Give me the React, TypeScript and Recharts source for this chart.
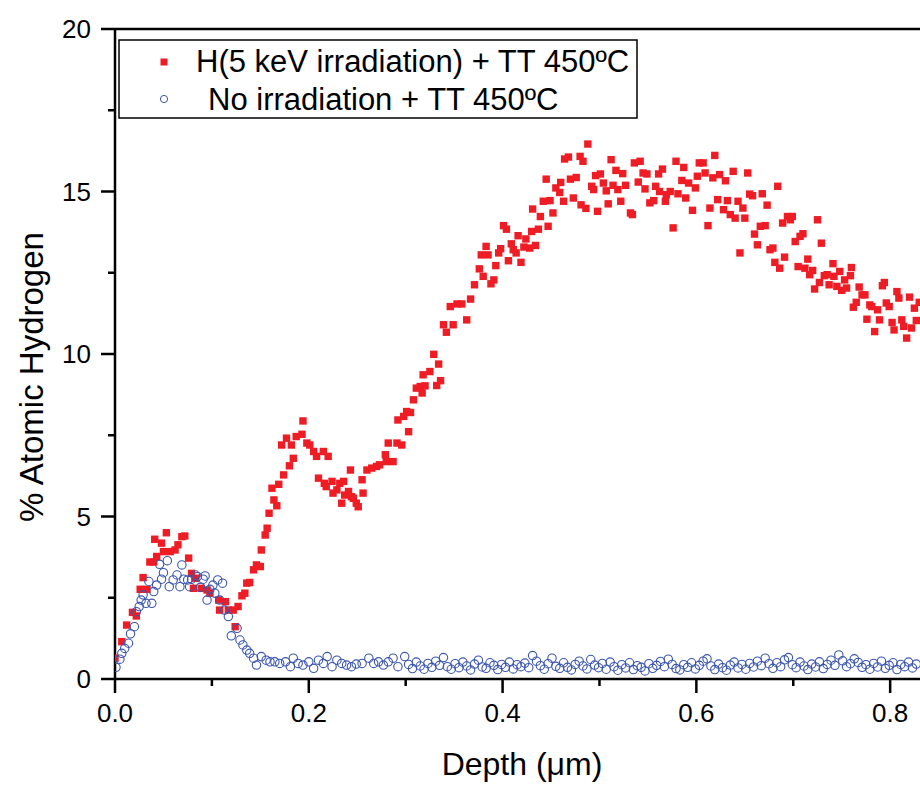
import React from "react";
import { ReferenceLine, Scatter, ScatterChart, XAxis, YAxis } from "recharts";

// H(5 keV irradiation) + TT 450ºC  (depth in µm, % atomic hydrogen)
const IRR_DEPTH = [
  0.0, 0.007, 0.012, 0.018, 0.022, 0.026, 0.029, 0.033, 0.036, 0.04,
  0.041, 0.043, 0.048, 0.05, 0.053, 0.057, 0.062, 0.065, 0.069, 0.072,
  0.076, 0.079, 0.081, 0.083, 0.089, 0.095, 0.098, 0.107, 0.108, 0.114,
  0.117, 0.122, 0.124, 0.127, 0.131, 0.134, 0.136, 0.139, 0.143, 0.146,
  0.15, 0.151, 0.155, 0.157, 0.159, 0.162, 0.164, 0.167, 0.169, 0.172,
  0.174, 0.177, 0.18, 0.182, 0.184, 0.187, 0.193, 0.194, 0.198, 0.201,
  0.205, 0.208, 0.21, 0.215, 0.216, 0.218, 0.22, 0.224, 0.225, 0.229,
  0.232, 0.234, 0.236, 0.237, 0.241, 0.243, 0.244, 0.246, 0.249, 0.251,
  0.255, 0.256, 0.26, 0.265, 0.27, 0.273, 0.279, 0.28, 0.282, 0.287,
  0.291, 0.292, 0.296, 0.298, 0.301, 0.303, 0.305, 0.308, 0.311, 0.315,
  0.317, 0.318, 0.32, 0.325, 0.329, 0.332, 0.334, 0.336, 0.339, 0.342,
  0.346, 0.349, 0.353, 0.358, 0.363, 0.367, 0.371, 0.376, 0.378, 0.38,
  0.383, 0.385, 0.388, 0.391, 0.393, 0.396, 0.398, 0.401, 0.404, 0.406,
  0.409, 0.411, 0.414, 0.416, 0.419, 0.422, 0.424, 0.428, 0.43, 0.431,
  0.434, 0.437, 0.439, 0.442, 0.445, 0.447, 0.449, 0.452, 0.455, 0.459,
  0.46, 0.463, 0.464, 0.468, 0.47, 0.473, 0.476, 0.48, 0.481, 0.483,
  0.486, 0.488, 0.492, 0.494, 0.496, 0.498, 0.501, 0.504, 0.507, 0.509,
  0.512, 0.514, 0.517, 0.519, 0.522, 0.524, 0.527, 0.532, 0.534, 0.536,
  0.54, 0.542, 0.545, 0.547, 0.549, 0.552, 0.556, 0.558, 0.561, 0.562,
  0.565, 0.568, 0.569, 0.573, 0.576, 0.579, 0.581, 0.585, 0.587, 0.589,
  0.592, 0.596, 0.599, 0.601, 0.603, 0.607, 0.609, 0.612, 0.614, 0.617,
  0.619, 0.622, 0.624, 0.628, 0.63, 0.632, 0.635, 0.638, 0.64, 0.643,
  0.645, 0.648, 0.65, 0.653, 0.655, 0.658, 0.66, 0.663, 0.666, 0.668,
  0.671, 0.673, 0.676, 0.679, 0.681, 0.684, 0.686, 0.689, 0.691, 0.694,
  0.697, 0.699, 0.702, 0.705, 0.707, 0.71, 0.712, 0.715, 0.717, 0.72,
  0.722, 0.725, 0.727, 0.729, 0.732, 0.735, 0.737, 0.741, 0.742, 0.745,
  0.748, 0.75, 0.753, 0.755, 0.759, 0.76, 0.762, 0.765, 0.768, 0.771,
  0.774, 0.776, 0.779, 0.781, 0.784, 0.787, 0.789, 0.792, 0.794, 0.796,
  0.799, 0.802, 0.804, 0.807, 0.809, 0.812, 0.814, 0.817, 0.82, 0.822,
  0.825, 0.827, 0.83,
];
const IRR_H = [
  0.64, 1.15, 1.66, 2.05, 1.94, 2.76, 3.12, 2.76, 3.6, 3.6,
  4.3, 3.77, 4.18, 3.92, 4.5, 3.92, 3.97, 4.13, 4.38, 4.4,
  3.72, 3.25, 2.79, 3.1, 2.79, 2.74, 2.64, 2.43, 2.12, 2.38,
  2.12, 2.12, 1.61, 2.23, 2.56, 2.64, 2.95, 2.97, 3.36, 3.51,
  3.46, 3.97, 4.43, 4.64, 5.1, 5.87, 5.51, 5.33, 5.99, 7.2,
  6.28, 7.41, 6.56, 7.2, 6.79, 7.46, 7.53, 7.94, 7.26, 7.2,
  7.0, 6.85, 6.18, 7.0, 6.02, 5.92, 6.85, 6.08, 5.72, 5.82,
  6.02, 5.41, 6.08, 5.66, 5.77, 6.43, 5.61, 5.56, 5.41, 5.3,
  6.13, 5.72, 6.43, 6.49, 6.54, 6.59, 6.9, 6.69, 7.26, 6.69,
  7.26, 7.97, 7.2, 8.08, 8.23, 7.61, 8.2, 8.59, 8.95, 9.0,
  8.8, 9.36, 9.02, 9.46, 9.99, 9.03, 9.69, 9.18, 10.9, 10.67,
  11.46, 10.9, 11.54, 11.54, 11.05, 11.69, 12.13, 12.62, 13.05, 12.39,
  13.31, 13.05, 12.16, 12.28, 12.72, 13.11, 13.24, 13.95, 13.84, 12.87,
  13.39, 13.21, 13.11, 13.64, 12.82, 13.29, 13.54, 13.26, 13.77, 14.46,
  13.34, 13.84, 14.23, 14.7, 15.38, 13.93, 14.72, 14.34, 15.11, 14.97,
  15.28, 14.7, 16.0, 16.06, 15.38, 14.8, 15.43, 16.08, 14.59, 15.93,
  14.48, 16.46, 15.16, 15.06, 15.49, 14.39, 15.54, 15.26, 15.02, 14.62,
  15.98, 15.19, 15.65, 15.06, 14.7, 15.55, 15.19, 14.34, 14.29, 15.88,
  15.29, 15.93, 15.57, 15.08, 15.54, 14.65, 14.72, 15.16, 15.54, 15.0,
  15.69, 14.7, 14.9, 15.0, 13.88, 15.93, 14.93, 15.34, 15.74, 14.8,
  15.26, 14.42, 15.11, 15.47, 15.88, 15.88, 15.57, 13.95, 14.49, 15.42,
  16.11, 14.75, 15.52, 14.44, 15.33, 14.72, 14.29, 15.62, 14.18, 14.7,
  13.11, 14.49, 14.18, 15.57, 14.92, 14.87, 13.69, 13.36, 13.93, 14.93,
  13.95, 14.58, 13.21, 13.26, 12.82, 15.16, 12.64, 14.03, 12.98, 14.23,
  14.13, 14.23, 13.46, 12.69, 13.62, 13.7, 12.64, 12.92, 12.44, 12.57,
  12.0, 14.13, 12.2, 13.41, 12.41, 12.44, 12.13, 12.78, 12.39, 12.08,
  12.54, 11.96, 12.28, 12.03, 12.41, 12.66, 11.44, 11.59, 12.06, 11.82,
  11.82, 11.07, 11.51, 11.46, 10.69, 11.36, 11.05, 12.1, 12.2, 11.57,
  11.46, 10.97, 10.74, 11.92, 11.72, 11.05, 10.85, 10.49, 11.75, 10.8,
  11.41, 11.03, 11.59,
];

// No irradiation + TT 450ºC
const NOIRR_DEPTH = [
  0.001, 0.005, 0.007, 0.01, 0.014, 0.016, 0.02, 0.022, 0.025, 0.027,
  0.029, 0.032, 0.035, 0.038, 0.04, 0.043, 0.046, 0.048, 0.05, 0.054,
  0.056, 0.06, 0.064, 0.067, 0.069, 0.071, 0.075, 0.077, 0.079, 0.083,
  0.085, 0.088, 0.091, 0.093, 0.095, 0.098, 0.101, 0.103, 0.106, 0.108,
  0.111, 0.113, 0.117, 0.12, 0.126, 0.129, 0.132, 0.136, 0.139, 0.143,
  0.146, 0.151, 0.156, 0.16, 0.165, 0.17, 0.176, 0.181, 0.184, 0.189,
  0.194, 0.2, 0.205, 0.21, 0.215, 0.219, 0.224, 0.229, 0.234, 0.239,
  0.244, 0.249, 0.255, 0.262, 0.267, 0.272, 0.277, 0.282, 0.287, 0.292,
  0.299, 0.303, 0.307, 0.311, 0.315, 0.319, 0.323, 0.327, 0.331, 0.335,
  0.339, 0.343, 0.347, 0.351, 0.355, 0.359, 0.363, 0.367, 0.371, 0.375,
  0.379, 0.383, 0.387, 0.391, 0.395, 0.399, 0.403, 0.407, 0.411, 0.415,
  0.419, 0.423, 0.427, 0.431, 0.435, 0.439, 0.443, 0.447, 0.451, 0.455,
  0.459, 0.463, 0.467, 0.471, 0.475, 0.479, 0.483, 0.487, 0.491, 0.495,
  0.499, 0.503, 0.507, 0.511, 0.515, 0.519, 0.523, 0.527, 0.531, 0.535,
  0.539, 0.543, 0.547, 0.551, 0.555, 0.559, 0.563, 0.567, 0.571, 0.575,
  0.579, 0.583, 0.587, 0.591, 0.595, 0.599, 0.603, 0.607, 0.611, 0.615,
  0.619, 0.623, 0.627, 0.631, 0.635, 0.639, 0.643, 0.647, 0.651, 0.655,
  0.659, 0.663, 0.667, 0.671, 0.675, 0.679, 0.683, 0.687, 0.691, 0.695,
  0.699, 0.703, 0.707, 0.711, 0.715, 0.719, 0.723, 0.727, 0.731, 0.735,
  0.739, 0.743, 0.747, 0.751, 0.755, 0.759, 0.763, 0.767, 0.771, 0.775,
  0.779, 0.783, 0.787, 0.791, 0.795, 0.799, 0.803, 0.807, 0.811, 0.815,
  0.819, 0.823, 0.827,
];
const NOIRR_H = [
  0.36, 0.61, 0.79, 0.94, 1.1, 1.39, 1.61, 2.07, 2.23, 2.43,
  2.59, 2.33, 3.0, 2.33, 2.69, 2.89, 3.53, 3.07, 3.27, 3.64,
  2.84, 3.05, 3.2, 2.84, 3.51, 3.07, 3.05, 2.84, 3.07, 3.2,
  3.15, 2.82, 3.07, 3.17, 2.43, 2.76, 2.89, 2.64, 3.05, 2.43,
  2.95, 2.12, 1.92, 1.33, 1.56, 1.2, 1.05, 0.89, 0.79, 0.64,
  0.43, 0.69, 0.58, 0.53, 0.53, 0.48, 0.53, 0.38, 0.64, 0.48,
  0.43, 0.53, 0.33, 0.58, 0.48, 0.69, 0.38, 0.58, 0.48, 0.43,
  0.38, 0.46, 0.48, 0.64, 0.48, 0.53, 0.43, 0.53, 0.64, 0.38,
  0.69, 0.45, 0.32, 0.52, 0.4, 0.3, 0.48, 0.36, 0.55, 0.42,
  0.66, 0.38, 0.3, 0.47, 0.35, 0.52, 0.4, 0.28, 0.46, 0.58,
  0.37, 0.33, 0.5, 0.42, 0.29, 0.45, 0.36, 0.52, 0.31, 0.44,
  0.38, 0.49, 0.35, 0.72, 0.55, 0.41, 0.3, 0.47, 0.64, 0.39,
  0.33, 0.5, 0.36, 0.28, 0.45, 0.55, 0.4, 0.31, 0.6, 0.43,
  0.35, 0.48, 0.3, 0.52, 0.38, 0.27, 0.44, 0.34, 0.5, 0.29,
  0.41, 0.36, 0.25, 0.47, 0.33, 0.42, 0.54, 0.38, 0.61, 0.45,
  0.32, 0.28, 0.44, 0.36, 0.5, 0.31, 0.42, 0.55, 0.62, 0.4,
  0.29, 0.46, 0.35, 0.27, 0.43, 0.52, 0.34, 0.45, 0.3, 0.48,
  0.37, 0.55, 0.41, 0.64, 0.47, 0.33, 0.5, 0.38, 0.59, 0.66,
  0.44, 0.35, 0.52, 0.4, 0.29, 0.46, 0.37, 0.53, 0.32, 0.45,
  0.58, 0.42, 0.74, 0.56, 0.38, 0.47, 0.62, 0.51, 0.36, 0.44,
  0.3, 0.48, 0.37, 0.55, 0.33, 0.42, 0.5, 0.29, 0.45, 0.38,
  0.52, 0.34, 0.46,
];

const X_TICKS = [0, 0.1, 0.2, 0.3, 0.4, 0.5, 0.6, 0.7, 0.8];
const Y_TICKS = [0, 2.5, 5, 7.5, 10, 12.5, 15, 17.5, 20];
const X_MAX = 0.8308;

const IRR_LABEL = "H(5 keV irradiation) + TT 450ºC";
const NOIRR_LABEL = "No irradiation + TT 450ºC";
const X_TITLE = "Depth (μm)";
const Y_TITLE = "% Atomic Hydrogen";

const FONT = "'Liberation Sans', Arial, sans-serif";
const RED = "#ee1c24";
const BLUE = "#3b56ad";

const irrData = IRR_DEPTH.map((d, i) => ({ depth: d, h: IRR_H[i] }));
const noIrrData = NOIRR_DEPTH.map((d, i) => ({ depth: d, h: NOIRR_H[i] }));

function XTick(props: any) {
  const { x, y, payload, index } = props;
  const major = index % 2 === 0;
  return (
    <g>
      <line x1={x} x2={x} y1={y} y2={y + (major ? 14 : 7)} stroke="#000" strokeWidth={2.5} />
      {major && (
        <text x={x} y={y + 43} textAnchor="middle" fontSize={26} fontFamily={FONT} fill="#000">
          {payload.value.toFixed(1)}
        </text>
      )}
    </g>
  );
}

function YTick(props: any) {
  const { x, y, payload, index } = props;
  const major = index % 2 === 0;
  return (
    <g>
      <line x1={x - (major ? 14 : 7)} x2={x} y1={y} y2={y} stroke="#000" strokeWidth={2.5} />
      {major && (
        <text x={x - 24} y={y + 9} textAnchor="end" fontSize={26} fontFamily={FONT} fill="#000">
          {String(payload.value)}
        </text>
      )}
    </g>
  );
}

const Square = (props: any) => (
  <rect x={props.cx - 3.7} y={props.cy - 3.7} width={7.4} height={7.4} fill={RED} />
);
const Ring = (props: any) => (
  <circle cx={props.cx} cy={props.cy} r={4.2} fill="none" stroke={BLUE} strokeWidth={1.1} />
);

export default function App() {
  return (
    <div style={{ position: "absolute", left: 0, top: 0, width: 920, height: 785, background: "#fff" }}>
      <ScatterChart width={920} height={785} margin={{ top: 29, right: 0, bottom: 0, left: 0 }}>
        <XAxis
          type="number"
          dataKey="depth"
          domain={[0, X_MAX]}
          allowDataOverflow
          ticks={X_TICKS}
          interval={0}
          height={106}
          tickSize={0}
          tickMargin={0}
          tickLine={false}
          tick={<XTick />}
          axisLine={{ stroke: "#000", strokeWidth: 2.5 }}
        />
        <YAxis
          type="number"
          dataKey="h"
          domain={[0, 20]}
          ticks={Y_TICKS}
          interval={0}
          width={115}
          tickSize={0}
          tickMargin={0}
          tickLine={false}
          tick={<YTick />}
          axisLine={{ stroke: "#000", strokeWidth: 2.5 }}
        />
        <ReferenceLine y={20} stroke="#000" strokeWidth={2.5} ifOverflow="visible" />
        <Scatter data={irrData} shape={Square} isAnimationActive={false} />
        <Scatter data={noIrrData} shape={Ring} isAnimationActive={false} />
      </ScatterChart>
      <svg
        width={920}
        height={785}
        style={{ position: "absolute", left: 0, top: 0, pointerEvents: "none" }}
        fontFamily={FONT}
      >
        <text x={522} y={775} textAnchor="middle" fontSize={32} fill="#000">
          {X_TITLE}
        </text>
        <text
          x={43}
          y={377}
          textAnchor="middle"
          fontSize={33}
          fill="#000"
          transform="rotate(-90, 43, 377)"
        >
          {Y_TITLE}
        </text>
        <rect x={119} y={40} width={518} height={78} fill="#fff" stroke="#000" strokeWidth={1.5} />
        <rect x={160.5} y={58.5} width={7} height={7} fill={RED} />
        <text x={196} y={72} fontSize={31} fill="#000">
          {IRR_LABEL}
        </text>
        <circle cx={164} cy={99} r={3.6} fill="none" stroke={BLUE} strokeWidth={1} />
        <text x={208} y={110} fontSize={31} fill="#000">
          {NOIRR_LABEL}
        </text>
      </svg>
    </div>
  );
}
